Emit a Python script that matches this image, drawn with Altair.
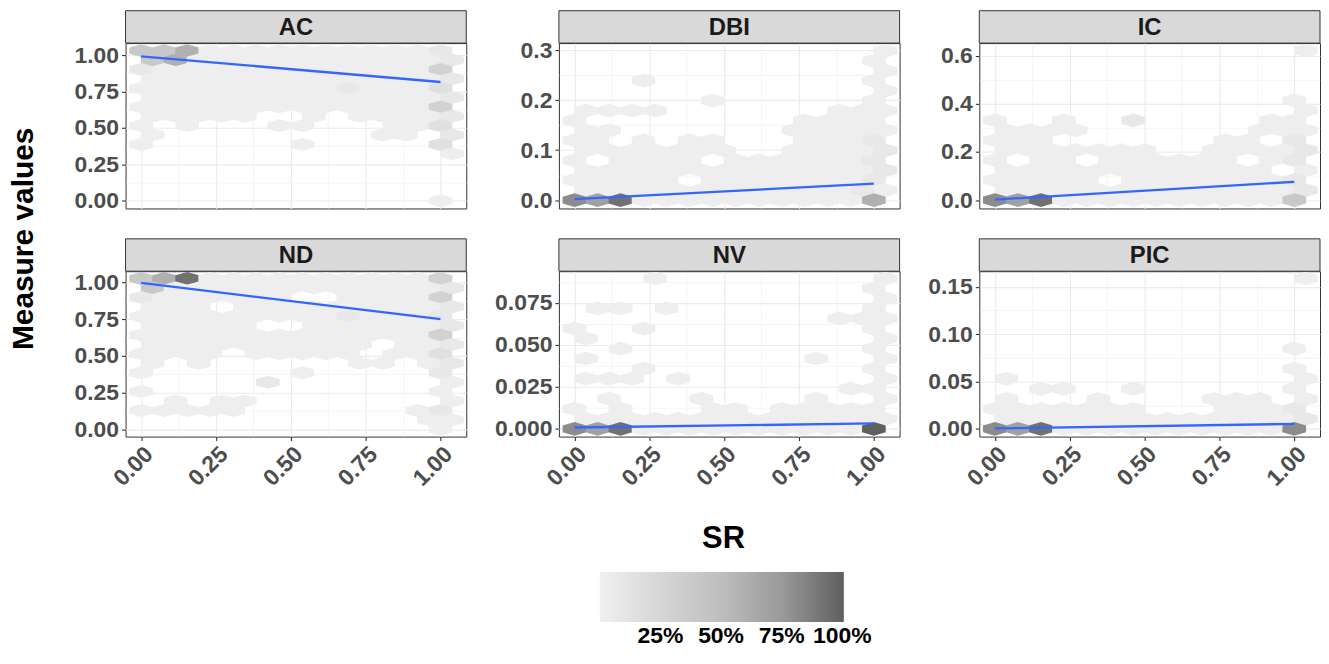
import altair as alt
import pandas as pd

# ---------------- data ----------------
PANELS = ["AC", "DBI", "IC", "ND", "NV", "PIC"]

X_DOMAIN = [-0.052, 1.086]
X_TICKS = [0.0, 0.25, 0.5, 0.75, 1.0]
X_COLS = 13  # hex columns per unit of SR

Y_DOMAIN = {
    "AC": [-0.053, 1.082], "DBI": [-0.0167, 0.314], "IC": [-0.035, 0.652],
    "ND": [-0.050, 1.077], "NV": [-0.0046, 0.0938], "PIC": [-0.0081, 0.1665],
}
Y_STEP = {"AC": 0.25, "DBI": 0.1, "IC": 0.2, "ND": 0.25, "NV": 0.025, "PIC": 0.05}
Y_FMT = {"AC": ".2f", "DBI": ".1f", "IC": ".1f", "ND": ".2f", "NV": ".3f", "PIC": ".2f"}
HEX_DY = {"AC": 0.0644, "DBI": 0.0199, "IC": 0.0414, "ND": 0.0642, "NV": 0.00597, "PIC": 0.01059}

# shade level of each hex cell -> percent
LEVEL_PCT = {"1": 2, "2": 8, "3": 15, "4": 29, "5": 40, "6": 60, "7": 70, "8": 81, "9": 93, "X": 100}

# hex grids, top row first; 14 cells per row
HEX_ROWS = {
    "AC": [
        "55611111111112",
        "56111111111112",
        "21111111111114",
        "11111111111112",
        "11111111121113",
        "11111111111112",
        "11111111111114",
        "11111..1.11112",
        "1.1...11...113",
        "1.........11.2",
        "1......1.....3",
        ".............1",
        "..............",
        "..............",
        "..............",
        "..............",
        ".............1",
    ],
    "DBI": [
        ".............1",
        ".............1",
        ".............1",
        "...1.........1",
        ".............1",
        "......1......1",
        "1111.......111",
        "1.........1111",
        "11.......11111",
        "11.1.11...1112",
        "1111111..11112",
        "1.1111.1111112",
        "11111111111112",
        "11111.11111112",
        "11111111111121",
        "87911111111116",
    ],
    "IC": [
        ".............1",
        "..............",
        "..............",
        "..............",
        "..............",
        ".............1",
        ".............1",
        "1..1..2.....11",
        "1111.......111",
        "111.......11.2",
        "1111111..11112",
        "1.11.111111.12",
        "111111111111.1",
        "11111.11111112",
        "11111111111112",
        "87911111111115",
    ],
    "ND": [
        "56911111111114",
        "51111111111112",
        "2111111..11114",
        "111.1111111112",
        "11111111121112",
        "11111..1111112",
        "11111111111114",
        "1111111111.112",
        "1111.11111.113",
        "1.1......11.12",
        "1......1.....2",
        ".....2.......1",
        "1............1",
        ".1.11........1",
        "11111.......12",
        "............11",
        ".............1",
    ],
    "NV": [
        "...1.........1",
        ".............1",
        ".............1",
        ".11.1........1",
        "...........111",
        "1..1.........1",
        "1............1",
        "..1..........1",
        "1.........1..1",
        "...1.........1",
        "111.1........1",
        "............11",
        ".1...1....1..1",
        "1.1...11.11111",
        "11111111111111",
        "8791111111111X",
    ],
    "PIC": [
        ".............1",
        "..............",
        "..............",
        "..............",
        "..............",
        "..............",
        "..............",
        ".............1",
        "..............",
        ".............1",
        "1............1",
        "..11..1......1",
        "1...1....111.1",
        "1111111...1112",
        "11111111111112",
        "87911111111118",
    ],
}

# fitted line: value at SR = 0 and at SR = 1
LINE_Y0 = [0.991, 0.002, 0.002, 0.997, 0.0008, 0.0005]
LINE_Y1 = [0.815, 0.033, 0.0757, 0.750, 0.0032, 0.0053]

LEGEND_BREAKS = [25, 50, 75, 100]
COLOR_DOMAIN = [0, 25, 50, 75, 100.6]
COLOR_RANGE = ["#F0F0F0", "#D6D6D6", "#BEBEBE", "#9A9A9A", "#5F5F5F"]

# ---------------- layout / style ----------------
W, H = 342, 166
SH = 32.5
FONT = "Liberation Sans"
GRID = "#EBEBEB"
DARK = "#333333"
LABEL_GREY = "#4D4D4D"
EXTENT = {"AC": 75, "ND": 75, "DBI": 81, "NV": 81, "IC": 68.2, "PIC": 68.2}
TOP_ORIGIN = 40  # page y of the first row's plot top


def hex_df(name):
    rows = HEX_ROWS[name]
    n = len(rows)
    recs = []
    for i, row in enumerate(rows):
        r = n - 1 - i
        for k, c in enumerate(row):
            if c == ".":
                continue
            recs.append({"x": (k + 0.5 * (r % 2)) / X_COLS,
                         "y": r * HEX_DY[name],
                         "pct": LEVEL_PCT[c]})
    return pd.DataFrame(recs)


def hex_shape(name):
    lo, hi = Y_DOMAIN[name]
    wpx = W / (X_DOMAIN[1] - X_DOMAIN[0]) / X_COLS * 1.03
    hpx = 4.0 / 3.0 * HEX_DY[name] * H / (hi - lo) * 1.03
    a = hpx / wpx
    b = a / 2
    path = (f"M0,{-a:.4f}L1,{-b:.4f}L1,{b:.4f}L0,{a:.4f}"
            f"L-1,{b:.4f}L-1,{-b:.4f}Z")
    return path, wpx * wpx


def minor_test(step):
    return f"abs(datum.value/{step} - round(datum.value/{step})) > 0.001"


def y_axis(name):
    step = Y_STEP[name]
    lo, hi = Y_DOMAIN[name]
    half = step / 2
    vals = []
    i = 0
    while i * half <= hi + 1e-12:
        vals.append(round(i * half, 6))
        i += 1
    test = minor_test(step)
    return alt.Axis(
        values=vals, format=Y_FMT[name], title=None, domain=False,
        labelExpr=f"({test}) ? '' : datum.label",
        tickColor={"condition": {"test": test, "value": "transparent"}, "value": DARK},
        gridColor=GRID,
        gridWidth={"condition": {"test": test, "value": 0.55}, "value": 1.1},
        tickSize=4, tickWidth=1.1,
        labelFont=FONT, labelFontSize=23, labelFontWeight="bold",
        labelColor=LABEL_GREY, labelPadding=3, labelFlush=False, labelOverlap=False,
        minExtent=EXTENT[name], maxExtent=EXTENT[name],
    )


def x_axis(bottom, with_title):
    vals = [0.0, 0.125, 0.25, 0.375, 0.5, 0.625, 0.75, 0.875, 1.0]
    test = minor_test(0.25)
    common = dict(values=vals, domain=False, gridColor=GRID,
                  gridWidth={"condition": {"test": test, "value": 0.55}, "value": 1.1})
    if not bottom:
        return alt.Axis(labels=False, ticks=False, title=None, **common)
    if with_title:
        extra = dict(title="SR", titleFont=FONT, titleFontSize=31, titleFontWeight="bold",
                     titleColor="#000000", titleX=164.7, titleY=111,
                     titleBaseline="alphabetic")
    else:
        extra = dict(title=None)
    return alt.Axis(
        format=".2f", labelExpr=f"({test}) ? '' : datum.label",
        tickColor={"condition": {"test": test, "value": "transparent"}, "value": DARK},
        tickSize=4, tickWidth=1.1,
        labelFont=FONT, labelFontSize=23, labelFontWeight="bold", labelColor=LABEL_GREY,
        labelAngle=-45, labelAlign="right", labelBaseline="top", labelPadding=2,
        labelFlush=False, labelOverlap=False, **common, **extra)


COLOR_SCALE = alt.Scale(domain=COLOR_DOMAIN, range=COLOR_RANGE, interpolate="rgb")
LEGEND = alt.Legend(
    orient="none", legendX=593, legendY=571 - TOP_ORIGIN, direction="horizontal", title=None,
    gradientLength=245, gradientThickness=50, gradientStrokeWidth=0,
    values=LEGEND_BREAKS, labelExpr="datum.value + '%'",
    labelFont=FONT, labelFontSize=23, labelFontWeight="bold", labelColor="#000000",
    labelAlign="center", labelOverlap=False, labelOffset=3, padding=0,
)


def panel(idx, bottom):
    name = PANELS[idx]
    path, size = hex_shape(name)
    xs = alt.Scale(domain=X_DOMAIN, nice=False, zero=False)
    ys = alt.Scale(domain=Y_DOMAIN[name], nice=False, zero=False)
    xa = x_axis(bottom, name == "NV")
    ya = y_axis(name)

    hexes = alt.Chart(hex_df(name)).mark_point(
        shape=path, size=size, filled=True, opacity=1, strokeWidth=0, clip=True
    ).encode(
        x=alt.X("x:Q", scale=xs, axis=xa),
        y=alt.Y("y:Q", scale=ys, axis=ya),
        color=alt.Color("pct:Q", scale=COLOR_SCALE, legend=LEGEND),
    )
    line = alt.Chart(pd.DataFrame({"x": [0.0, 1.0], "y": [LINE_Y0[idx], LINE_Y1[idx]]})).mark_line(
        color="#3366FF", strokeWidth=2.3, clip=True
    ).encode(
        x=alt.X("x:Q", scale=xs, axis=xa),
        y=alt.Y("y:Q", scale=ys, axis=ya),
    )
    strip_df = pd.DataFrame({"t": [name]})
    strip = alt.Chart(strip_df).mark_rect(fill="#D9D9D9", stroke=DARK, strokeWidth=1).encode(
        x=alt.value(0), x2=alt.value(W), y=alt.value(-SH), y2=alt.value(0)
    )
    strip_text = alt.Chart(strip_df).mark_text(
        font=FONT, fontSize=24, fontWeight="bold", color="#1A1A1A", baseline="middle", align="center"
    ).encode(x=alt.value(W / 2), y=alt.value(-SH / 2 + 1), text="t:N")
    return alt.layer(hexes, line, strip, strip_text).properties(width=W, height=H)


ytitle = alt.Chart(pd.DataFrame({"t": ["Measure values"]})).mark_text(
    font=FONT, fontSize=30, fontWeight="bold", color="#000000", angle=270,
    align="center", baseline="middle"
).encode(x=alt.value(15), y=alt.value(236.5 - TOP_ORIGIN), text="t:N").properties(
    width=30, height=380, view=alt.ViewBackground(strokeOpacity=0)
)

cols = []
for top_i, bot_i in [(0, 3), (1, 4), (2, 5)]:
    cols.append(alt.vconcat(panel(top_i, False), panel(bot_i, True), spacing=24))

chart = alt.hconcat(ytitle, *cols, spacing=10).properties(
    padding=0, background="white"
).configure_view(stroke=DARK, strokeWidth=1)

chart.save("out.html", embed_options={"renderer": "svg", "actions": False})
